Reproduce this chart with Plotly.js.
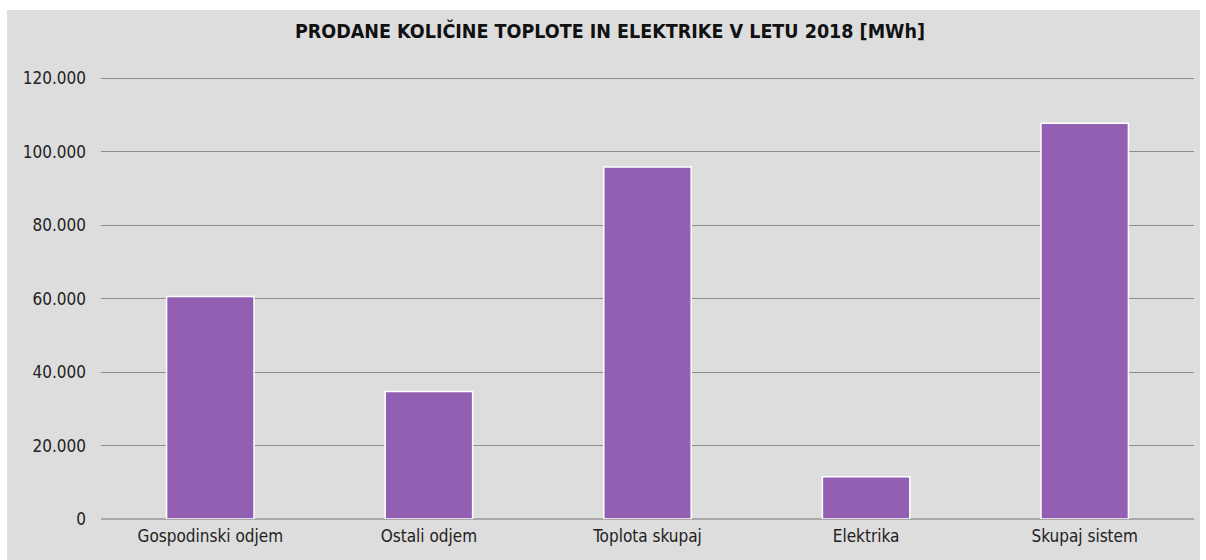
<!DOCTYPE html>
<html>
<head>
<meta charset="utf-8">
<script src="https://cdn.plot.ly/plotly-3.0.1.min.js"></script>
<style>
  html, body { margin: 0; padding: 0; background: #ffffff; width: 1206px; height: 560px; overflow: hidden; }
  #chart { position: absolute; left: 7px; top: 10px; width: 1193px; height: 550px; }
</style>
</head>
<body>
<div id="chart"></div>
<script>
const categories = ["Gospodinski odjem", "Ostali odjem", "Toplota skupaj", "Elektrika", "Skupaj sistem"];
const values = [60600, 34700, 95900, 11500, 107800];
const yTickValues = [0, 20000, 40000, 60000, 80000, 100000, 120000];
const chartTitle = "PRODANE KOLIČINE TOPLOTE IN ELEKTRIKE V LETU 2018 [MWh]";

const trace = {
  type: "bar",
  x: categories,
  y: values,
  marker: { color: "#935fb3", line: { color: "#ffffff", width: 1.5 } },
  hoverinfo: "x+y"
};

const layout = {
  width: 1193,
  height: 550,
  margin: { l: 94, r: 6, t: 63, b: 41 },
  paper_bgcolor: "#dddddd",
  plot_bgcolor: "#dddddd",
  separators: ",.",
  bargap: 0.6,
  showlegend: false,
  title: {
    text: chartTitle,
    font: { family: "DejaVu Sans Condensed, DejaVu Sans, sans-serif", size: 19.5, color: "#111111", weight: "bold" },
    xref: "container", x: 0.5054, xanchor: "center",
    yref: "container", y: 0.962, yanchor: "middle"
  },
  xaxis: {
    type: "category",
    tickfont: { family: "DejaVu Sans Condensed, DejaVu Sans, sans-serif", size: 17, color: "#222222" },
    showgrid: false,
    showline: false,
    ticks: "",
    ticklabelstandoff: 5
  },
  yaxis: {
    range: [0, 121500],
    tickvals: yTickValues,
    tickformat: ",d",
    tickfont: { family: "DejaVu Sans Condensed, DejaVu Sans, sans-serif", size: 17, color: "#222222" },
    showgrid: true,
    gridcolor: "#8c8c8c",
    gridwidth: 1,
    zeroline: true,
    zerolinecolor: "#a8a8a8",
    zerolinewidth: 1.5,
    showline: false,
    ticks: "",
    ticklabelstandoff: 14
  }
};

Plotly.newPlot("chart", [trace], layout, { displayModeBar: false, staticPlot: true });
</script>
</body>
</html>
